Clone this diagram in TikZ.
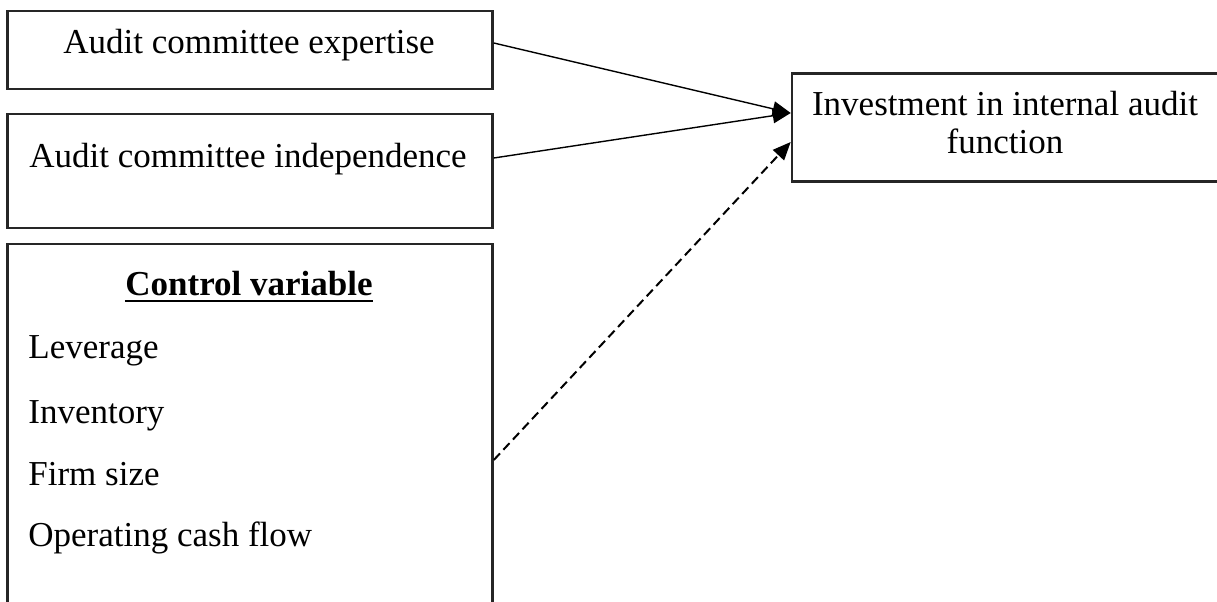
\documentclass[tikz,border=0pt]{standalone}
\usepackage{fontspec}
\setmainfont{Liberation Serif}
\usetikzlibrary{arrows.meta}
\begin{document}
\begin{tikzpicture}[x=0.5pt,y=-0.5pt,
  box/.style={draw=black!85,line width=1.3pt,rectangle,inner sep=0pt},
  lbl/.style={inner sep=0pt,font=\fontsize{17.5}{19}\selectfont},
  conn/.style={line width=0.7pt,-{Triangle[length=9pt,width=7.5pt]}},
  dconn/.style={line width=1pt,dash pattern=on 4.5pt off 2.5pt,-{Triangle[length=9pt,width=7.5pt]}}]
\useasboundingbox (0,0) rectangle (1217,601);
\fill[white] (0,0) rectangle (1217,601);
\clip (0,0) rectangle (1217,601);
% boxes
\node[box,minimum width=242.5pt,minimum height=39pt] (b1) at (250,50) {};
\node[box,minimum width=242.5pt,minimum height=57pt] (b2) at (250,171) {};
\node[box,minimum width=242.5pt,minimum height=188pt] (b3) at (250,432) {};
\node[box,minimum width=219pt,minimum height=54pt] (b4) at (1011,127.5) {};
% texts
\node[lbl,anchor=base] (t1) at (249,53) {Audit committee expertise};
\node[lbl,anchor=base] (t2) at (248,167) {Audit committee independence};
\node[lbl,anchor=base,font=\fontsize{17.5}{19}\selectfont\bfseries] (t3) at (249,295) {Control variable};
\draw[line width=1pt] ([yshift=-3pt]t3.base west) -- ([yshift=-3pt]t3.base east);
\node[lbl,anchor=base west] (t4) at (28,358) {Leverage};
\node[lbl,anchor=base west] (t5) at (28,423) {Inventory};
\node[lbl,anchor=base west] (t6) at (28,485) {Firm size};
\node[lbl,anchor=base west] (t7) at (28,546) {Operating cash flow};
\node[lbl,anchor=north,align=center] (t8) at (1005,91) {Investment in internal audit\\function};
% connectors
\draw[conn] ([yshift=3.5pt]b1.east) -- ([yshift=7.25pt]b4.west);
\draw[conn] ([yshift=6.5pt]b2.east) -- ([yshift=7.25pt]b4.west);
\draw[dconn] ([yshift=-14pt]b3.east) -- ([yshift=-7.25pt]b4.west);
\end{tikzpicture}
\end{document}
